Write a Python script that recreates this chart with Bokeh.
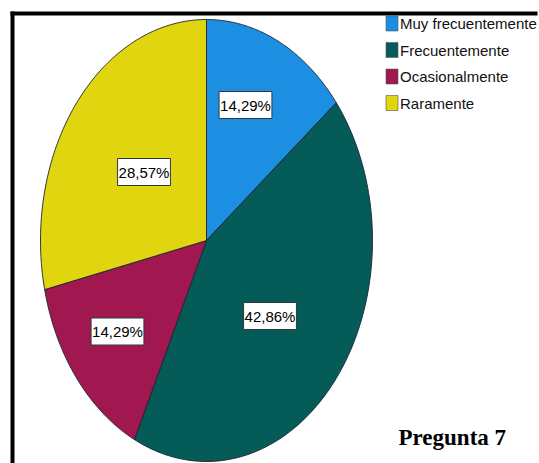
import numpy as np
from bokeh.plotting import figure
from bokeh.models import Range1d, ColumnDataSource
from bokeh.core.properties import value
from bokeh.embed import file_html
from bokeh.resources import INLINE

# Survey answers for question 7 (percent of respondents)
categories = ["Muy frecuentemente", "Frecuentemente", "Ocasionalmente", "Raramente"]
percents = [14.29, 42.86, 14.29, 28.57]
colors = ["#1D8FE2", "#055B58", "#A1174F", "#E1D510"]
title_text = "Pregunta 7"

# Layout (pixel-like coordinates, y grows downward)
W, H = 539, 463
CX, CY, RX, RY = 206, 240, 166, 221
label_pos = [(245, 104.5), (269.5, 315.5), (117, 331), (143.5, 171.5)]
legend_x, legend_y0, legend_dy = 391.5, 23, 26.5

p = figure(width=W, height=H, output_backend="svg", toolbar_location=None,
           x_range=Range1d(0, W), y_range=Range1d(H, 0), min_border=0)
p.axis.visible = False
p.grid.visible = False
p.outline_line_color = None
p.background_fill_color = "white"
p.border_fill_color = "white"

# Pie slices, clockwise from 12 o'clock, drawn on an elliptical outline
total = sum(percents)
fracs = np.cumsum([0] + percents) / total
xs, ys = [], []
for a, b in zip(fracs[:-1], fracs[1:]):
    t = np.linspace(a, b, 120) * 2 * np.pi
    xs.append([CX] + list(CX + RX * np.sin(t)) + [CX])
    ys.append([CY] + list(CY - RY * np.cos(t)) + [CY])
p.patches(xs, ys, fill_color=colors, line_color="#1b2630", line_width=1, line_alpha=0.9)

# Percentage labels in white boxes
labels = [f"{v:.2f}".replace(".", ",") + "%" for v in percents]
src = ColumnDataSource(dict(x=[q[0] for q in label_pos], y=[q[1] for q in label_pos], t=labels))
p.text("x", "y", text="t", source=src, text_align="center", text_baseline="middle",
       text_font=value("Liberation Sans"), text_font_size="15px", text_color="black",
       background_fill_color="white", border_line_color="#2a3a40", border_line_width=1,
       padding=(1, 5))

# Legend
ly = [legend_y0 + i * legend_dy for i in range(len(categories))]
p.rect([legend_x] * len(categories), ly, width=12, height=15, fill_color=colors,
       line_color="#555555", line_width=0.6)
p.text([legend_x + 8] * len(categories), ly, text=categories, text_align="left",
       text_baseline="middle", text_font=value("Liberation Sans"), text_font_size="15px",
       text_color="#111111")

# Frame lines along the top and left edge
p.segment(x0=[10, 12], y0=[13, 11], x1=[537, 12], y1=[13, H], line_color="black", line_width=4)

# Caption
p.text([398], [437], text=[title_text], text_align="left", text_baseline="middle",
       text_font=value("Liberation Serif"), text_font_style="bold", text_font_size="23px",
       text_color="black")

open("out.html", "w").write(file_html(p, INLINE))
